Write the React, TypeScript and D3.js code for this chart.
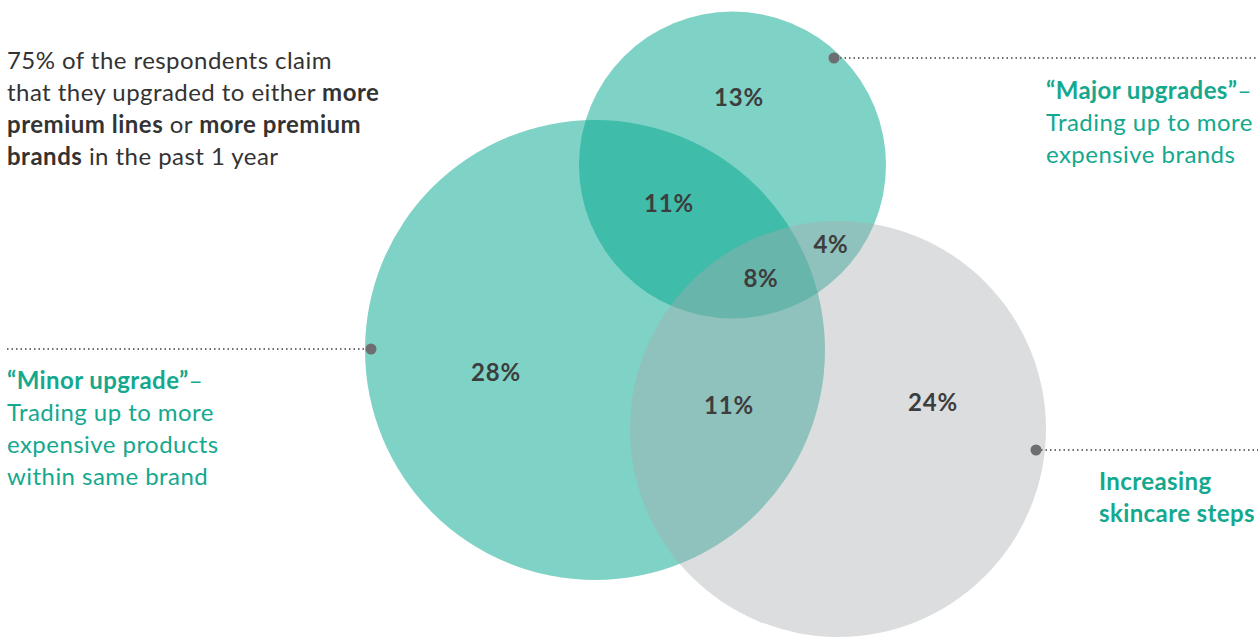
import React from "react";
import * as d3 from "d3";

const W = 1260;
const H = 637;

// Sets of the Venn diagram
const setNames = ["Minor upgrade", "Major upgrades", "Increasing skincare steps"];
// Region shares (%): Major only, Major∩Minor, Major∩Skincare, all three, Minor only, Minor∩Skincare, Skincare only
const regionValues = [13, 11, 4, 8, 28, 11, 24];

// layout (geometry, not data)
const circles = [
  { cx: 595, cy: 350, r: 230, fill: "#00a68e", op: 0.5 },
  { cx: 732.5, cy: 165, r: 153.5, fill: "#00a68e", op: 0.5 },
  { cx: 838, cy: 429, r: 208, fill: "#a7a9ac", op: 0.4 },
];
const regionPos = [
  [739, 97], [669, 203], [831, 244], [761, 278], [496, 372], [729, 405], [933, 402],
];

const FONT = "Lato, 'Noto Sans', sans-serif";
const TEAL = "#14a88e";
const DOT = "#6d6e71";
const FS = 24;
const LS = 0.45;

export default function App() {
  const fmt = d3.format(".0f");
  return (
    <svg width={W} height={H} style={{ position: "absolute", left: 0, top: 0, display: "block" }}>
      <rect width={W} height={H} fill="#fff" />
      {circles.map((c, i) => (
        <circle key={i} cx={c.cx} cy={c.cy} r={c.r} fill={c.fill} fillOpacity={c.op} />
      ))}
      {regionValues.map((v, i) => (
        <text key={i} x={regionPos[i][0]} y={regionPos[i][1]} dy="0.36em" textAnchor="middle"
          fontFamily={FONT} fontWeight={700} fontSize={FS} letterSpacing={0.8} fill="#3d3d3d">
          {fmt(v) + "%"}
        </text>
      ))}
      {/* connectors */}
      <line x1={840} x2={1258} y1={58} y2={58} stroke={DOT} strokeWidth={2} strokeDasharray="1.5 3" />
      <circle cx={834} cy={58} r={5.5} fill={DOT} />
      <line x1={7} x2={366} y1={349} y2={349} stroke={DOT} strokeWidth={2} strokeDasharray="1.5 3" />
      <circle cx={371} cy={349} r={5.5} fill={DOT} />
      <line x1={1041} x2={1258} y1={450} y2={450} stroke={DOT} strokeWidth={2} strokeDasharray="1.5 3" />
      <circle cx={1036} cy={450} r={5.5} fill={DOT} />

      {/* intro text */}
      <text fontFamily={FONT} fontSize={FS} fill="#333" fontWeight={400} letterSpacing={LS}>
        <tspan x={7} y={69}>75% of the respondents claim</tspan>
        <tspan x={7} y={101}>that they upgraded to either </tspan>
        <tspan fontWeight={700} letterSpacing={0.5}>more</tspan>
        <tspan x={7} y={133} fontWeight={700} letterSpacing={0.5}>premium lines</tspan>
        <tspan> or </tspan>
        <tspan fontWeight={700} letterSpacing={0.5}>more premium</tspan>
        <tspan x={7} y={165} fontWeight={700} letterSpacing={0.5}>brands</tspan>
        <tspan> in the past 1 year</tspan>
      </text>

      {/* Major */}
      <text fontFamily={FONT} fontSize={FS} fill={TEAL} fontWeight={400} letterSpacing={LS}>
        <tspan x={1046} y={99} fontWeight={700} letterSpacing={0.4}>“{setNames[1]}”</tspan>
        <tspan>–</tspan>
        <tspan x={1046} y={131}>Trading up to more</tspan>
        <tspan x={1046} y={163}>expensive brands</tspan>
      </text>

      {/* Minor */}
      <text fontFamily={FONT} fontSize={FS} fill={TEAL} fontWeight={400} letterSpacing={LS}>
        <tspan x={7} y={389} fontWeight={700} letterSpacing={0.4}>“{setNames[0]}”</tspan>
        <tspan>–</tspan>
        <tspan x={7} y={421}>Trading up to more</tspan>
        <tspan x={7} y={453}>expensive products</tspan>
        <tspan x={7} y={485}>within same brand</tspan>
      </text>

      {/* Skincare */}
      <text fontFamily={FONT} fontSize={FS} fill={TEAL} fontWeight={700} letterSpacing={0.4}>
        <tspan x={1099} y={490}>Increasing</tspan>
        <tspan x={1099} y={522}>skincare steps</tspan>
      </text>
    </svg>
  );
}
